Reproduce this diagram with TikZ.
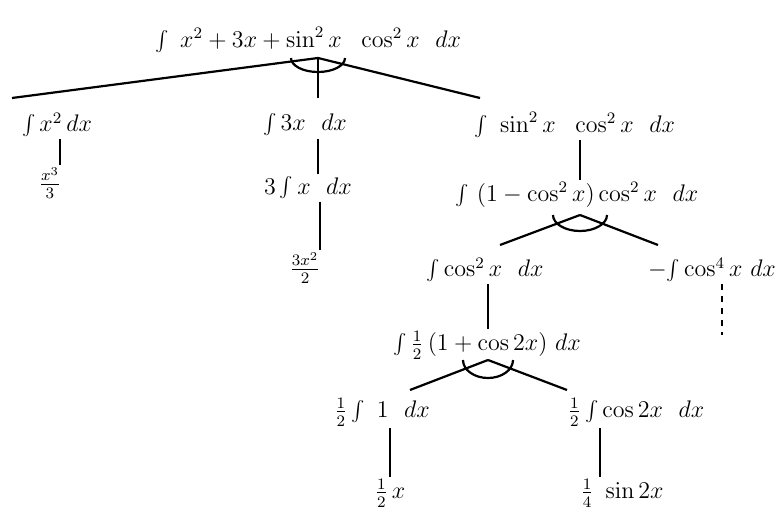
\documentclass[tikz,border=0pt]{standalone}
\usetikzlibrary{positioning,calc}

\begin{document}
\begin{tikzpicture}[
  x=0.5pt, y=-0.5pt,
  term/.style={inner sep=1pt, font=\large},
  edge/.style={line width=1.1pt},
  andarc/.style={line width=1.1pt}
]
  \useasboundingbox (0,0) rectangle (782,519);

  % integrand and its split
  \node[term] (root) at (308,40) {$\int\ x^{2} + 3x + \sin^{2}x\ \ \cos^{2}x\ \ dx$};
  \node[term] (ca) at (57,125) {$\int x^{2}\,dx$};
  \node[term] (cb) at (305,125) {$\int 3x\ \ dx$};
  \node[term] (cc) at (575,125) {$\int\ \sin^{2}x\ \ \cos^{2}x\ \ dx$};

  \node[term] (ra) at (50,183) {$\frac{x^{3}}{3}$};
  \node[term] (ba) at (308,188) {$3\int x\ \ dx$};
  \node[term] (bb) at (305,268) {$\frac{3x^{2}}{2}$};

  \node[term] (cd) at (577,195) {$\int\ (1 - \cos^{2}x)\cos^{2}x\ \ dx$};
  \node[term] (ce) at (485,270) {$\int\cos^{2}x\ \ dx$};
  \node[term] (cf) at (712,270) {$-\!\int \cos^{4}x\ dx$};
  \node[term] (cg) at (487,345) {$\int\frac{1}{2}\,(1 + \cos 2x)\ dx$};
  \node[term] (ch) at (382,412) {$\frac{1}{2}\int\ 1\ \ dx$};
  \node[term] (ci) at (636,412) {$\frac{1}{2}\int\cos 2x\ \ dx$};
  \node[term] (cj) at (390,493) {$\frac{1}{2}\,x$};
  \node[term] (ck) at (622,493) {$\frac{1}{4}\ \sin 2x$};

  % branch points
  \coordinate (apexA) at (318,58);
  \coordinate (endAa) at (12,98);
  \coordinate (endAc) at (480,98);
  \coordinate (apexB) at (580,215);
  \coordinate (endBa) at (500,245);
  \coordinate (endBb) at (658,245);
  \coordinate (apexC) at (488,360);
  \coordinate (endCa) at (410,390);
  \coordinate (endCb) at (567,390);
  \coordinate (endF) at (722,335);

  \draw[edge] (apexA) -- (endAa);
  \draw[edge] (apexA) -- (endAc);
  \draw[edge] (apexA) -- (apexA |- 0,98);
  \draw[andarc] ([xshift=-13.5pt]apexA) arc[start angle=180, end angle=360, x radius=13.5pt, y radius=7pt];

  \draw[edge] (apexB) -- (endBa);
  \draw[edge] (apexB) -- (endBb);
  \draw[andarc] ([xshift=-13.5pt]apexB) arc[start angle=180, end angle=360, x radius=13.5pt, y radius=8pt];

  \draw[edge] (apexC) -- (endCa);
  \draw[edge] (apexC) -- (endCb);
  \draw[andarc] ([xshift=-12.5pt]apexC) arc[start angle=180, end angle=360, x radius=12.5pt, y radius=9pt];

  % single steps
  \draw[edge] (ca.south -| 60,0) -- (ra.north -| 60,0);
  \draw[edge] (cb.south -| apexA) -- (ba.north -| apexA);
  \draw[edge] ([xshift=6pt]ba.south) -- ([xshift=6pt]ba.south |- bb.north);
  \draw[edge] (cc.south -| apexB) -- (cd.north -| apexB);
  \draw[edge] (ce.south -| apexC) -- (cg.north -| apexC);
  \draw[edge, dashed] (cf.south -| endF) -- (endF);
  \draw[edge] (ch.south -| 390,0) -- (cj.north -| 390,0);
  \draw[edge] (ci.south -| 600,0) -- (ck.north -| 600,0);
\end{tikzpicture}
\end{document}
